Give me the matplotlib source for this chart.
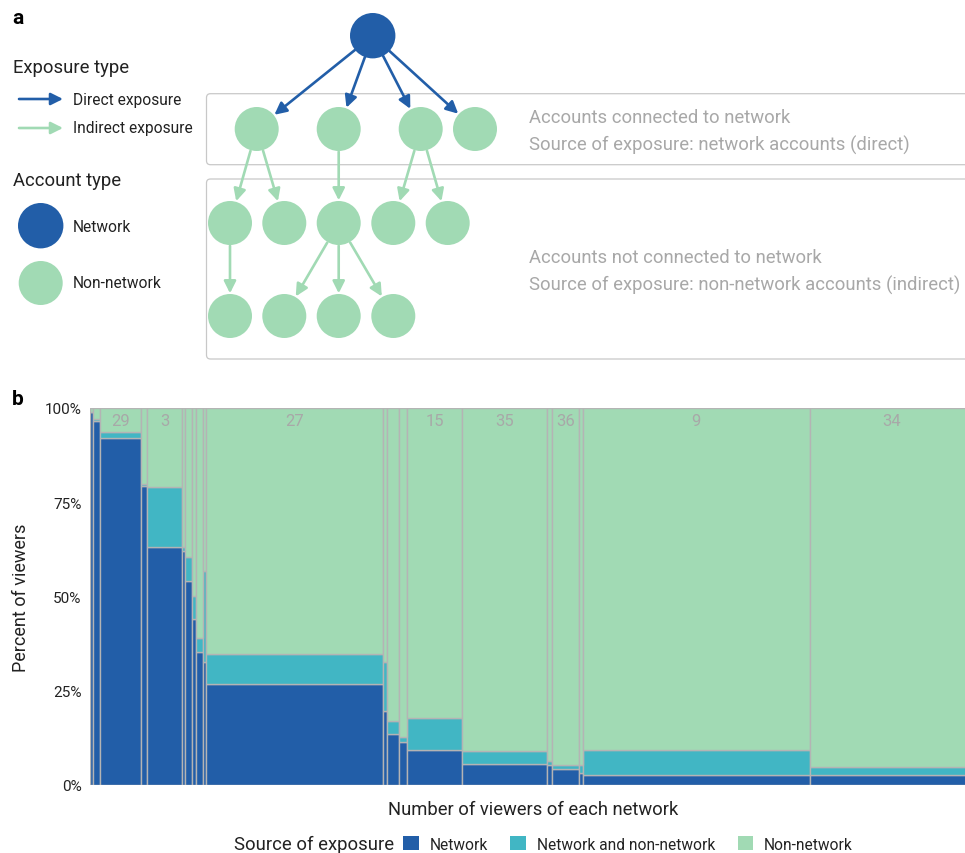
import numpy as np
import matplotlib
matplotlib.use("Agg")
import matplotlib.pyplot as plt
from matplotlib.patches import Circle, FancyArrowPatch, FancyBboxPatch, Patch
from matplotlib.ticker import PercentFormatter

plt.rcParams["font.family"] = ["Roboto", "DejaVu Sans"]

# ---------------- data: panel b (marimekko of exposure sources) ----------------
network_ids = ["", "", "29", "", "3", "", "", "", "", "", "27", "", "", "", "15",
               "35", "", "36", "", "9", "34"]
viewers = [2.7, 7.3, 41, 6, 35, 3, 7, 4, 7, 2.7, 177.6, 4, 11.7, 8.3, 55,
           84.4, 5, 27.3, 3.7, 227.3, 163]
pct_network = [99.0, 96.6, 92.0, 79.2, 63.0, 62.1, 54.2, 44.0, 35.2, 32.5, 26.7,
               19.5, 13.5, 11.3, 9.3, 5.6, 5.2, 4.2, 3.1, 2.6, 2.6]
pct_both = [0.0, 0.6, 1.7, 0.6, 16.0, 0.9, 6.4, 6.2, 3.9, 24.3, 8.0,
            13.0, 3.5, 1.3, 8.6, 3.3, 1.1, 1.2, 2.3, 6.8, 2.3]
y_ticks = [0, 25, 50, 75, 100]

# ---------------- diagram layout: panel a ----------------
hub = (372.7, 36.7)
row1 = [(256.7, 130), (338.7, 130), (420.7, 130), (475.0, 130)]
row2 = [(230.0, 224), (284.3, 224), (338.7, 224), (393.3, 224), (447.7, 224)]
row3 = [(230.0, 317), (284.3, 317), (338.7, 317), (393.3, 317)]
links_r1_r2 = [(0, 0), (0, 1), (1, 2), (2, 3), (2, 4)]
links_r2_r3 = [(0, 0), (2, 1), (2, 2), (2, 3)]

BLUE = "#225ea8"
CYAN = "#41b6c4"
GREEN = "#a1dab4"
EDGE = "#b4b4b4"
GREY_TXT = "#a8a8a8"
DARK = "#222222"

W, H = 965, 854
fig = plt.figure(figsize=(W / 100, H / 100), dpi=100)

# canvas axes in pixel units for the schematic
cv = fig.add_axes([0, 0, 1, 1])
cv.set_xlim(0, W)
cv.set_ylim(H, 0)
cv.axis("off")

R = 22.0
shrink = R * 0.72 + 0.5


def node(xy, color, r=R):
    cv.add_patch(Circle(xy, r, facecolor=color, edgecolor="none", zorder=3))


def arrow(p0, p1, color, sa=shrink, sb=shrink):
    cv.add_patch(FancyArrowPatch(p0, p1, arrowstyle="-|>,head_length=0.6,head_width=0.3",
                                 mutation_scale=12, color=color, lw=1.9,
                                 shrinkA=sa, shrinkB=sb, zorder=2))


cv.text(12, 18, "a", fontsize=15, fontweight="bold", va="center", ha="left", color="black")
cv.text(12, 400, "b", fontsize=15, fontweight="bold", va="center", ha="left", color="black")

# grouping boxes
for top, hgt in [(94.7, 71), (180, 180)]:
    cv.add_patch(FancyBboxPatch((206.5, top), 900, hgt,
                                boxstyle="round,pad=0,rounding_size=4",
                                facecolor="none", edgecolor="#c8c8c8", lw=0.9, zorder=1))

node(hub, BLUE, 22.7)
for p in row1 + row2 + row3:
    node(p, GREEN)
for p in row1:
    arrow(hub, p, BLUE)
for a, b in links_r1_r2:
    arrow(row1[a], row2[b], GREEN)
for a, b in links_r2_r3:
    arrow(row2[a], row3[b], GREEN)

txt_kw = dict(fontsize=13.3, color=GREY_TXT, va="center", ha="left")
cv.text(529, 118, "Accounts connected to network", **txt_kw)
cv.text(529, 145, "Source of exposure: network accounts (direct)", **txt_kw)
cv.text(529, 258, "Accounts not connected to network", **txt_kw)
cv.text(529, 285, "Source of exposure: non-network accounts (indirect)", **txt_kw)

# schematic legend
cv.text(13, 68, "Exposure type", fontsize=13.3, color=DARK, va="center")
arrow((19, 100), (63, 100), BLUE, 0, 0)
arrow((19, 129), (63, 129), GREEN, 0, 0)
cv.text(73, 100, "Direct exposure", fontsize=11.2, color=DARK, va="center")
cv.text(73, 129, "Indirect exposure", fontsize=11.2, color=DARK, va="center")
cv.text(13, 181, "Account type", fontsize=13.3, color=DARK, va="center")
node((40.7, 226.7), BLUE, 22.7)
node((40.7, 284), GREEN)
cv.text(73, 227, "Network", fontsize=11.2, color=DARK, va="center")
cv.text(73, 284, "Non-network", fontsize=11.2, color=DARK, va="center")

# ---------------- panel b ----------------
x0, x1, ytop, ybot = 90, 973, 409, 786
ax = fig.add_axes([x0 / W, 1 - ybot / H, (x1 - x0) / W, (ybot - ytop) / H])

w = np.array(viewers, dtype=float)
lefts = np.concatenate([[0], np.cumsum(w)[:-1]])
net = np.array(pct_network)
both = np.array(pct_both)
non = 100 - net - both

bar_kw = dict(width=w, align="edge", edgecolor=EDGE, linewidth=1.0)
ax.bar(lefts, net, color=BLUE, **bar_kw)
ax.bar(lefts, both, bottom=net, color=CYAN, **bar_kw)
ax.bar(lefts, non, bottom=net + both, color=GREEN, **bar_kw)

for lx, wx, lab in zip(lefts, w, network_ids):
    if lab:
        ax.text(lx + wx / 2, 96.8, lab, ha="center", va="center",
                fontsize=12, color=GREY_TXT)

ax.set_xlim(0, w.sum())
ax.set_ylim(0, 100)
ax.set_yticks(y_ticks)
ax.yaxis.set_major_formatter(PercentFormatter(decimals=0))
ax.set_xticks([])
ax.tick_params(axis="y", length=0, pad=6, labelsize=11, labelcolor=DARK)
for s in ax.spines.values():
    s.set_visible(False)
ax.set_ylabel("Percent of viewers", fontsize=13, color=DARK)
ax.yaxis.set_label_coords(-(90 - 30) / (x1 - x0), 0.5)
ax.set_xlabel("Number of viewers of each network", fontsize=13.2, color=DARK)
ax.xaxis.set_label_coords((533 - x0) / (x1 - x0), -(810 - ybot) / (ybot - ytop))
ax.xaxis.label.set_va("center")

# bottom legend
fig.text(234 / W, 1 - 845 / H, "Source of exposure", fontsize=13.3, color=DARK,
         va="center", ha="left")
handles = [Patch(facecolor=BLUE), Patch(facecolor=CYAN), Patch(facecolor=GREEN)]
fig.legend(handles, ["Network", "Network and non-network", "Non-network"],
           loc="center left", bbox_to_anchor=(403 / W, 1 - 845 / H), ncol=3,
           frameon=False, borderpad=0, borderaxespad=0, handlelength=1.0,
           handleheight=1.0, handletextpad=0.7, columnspacing=1.45, fontsize=11.2,
           labelcolor=DARK)

fig.savefig("out.png", dpi=100)
